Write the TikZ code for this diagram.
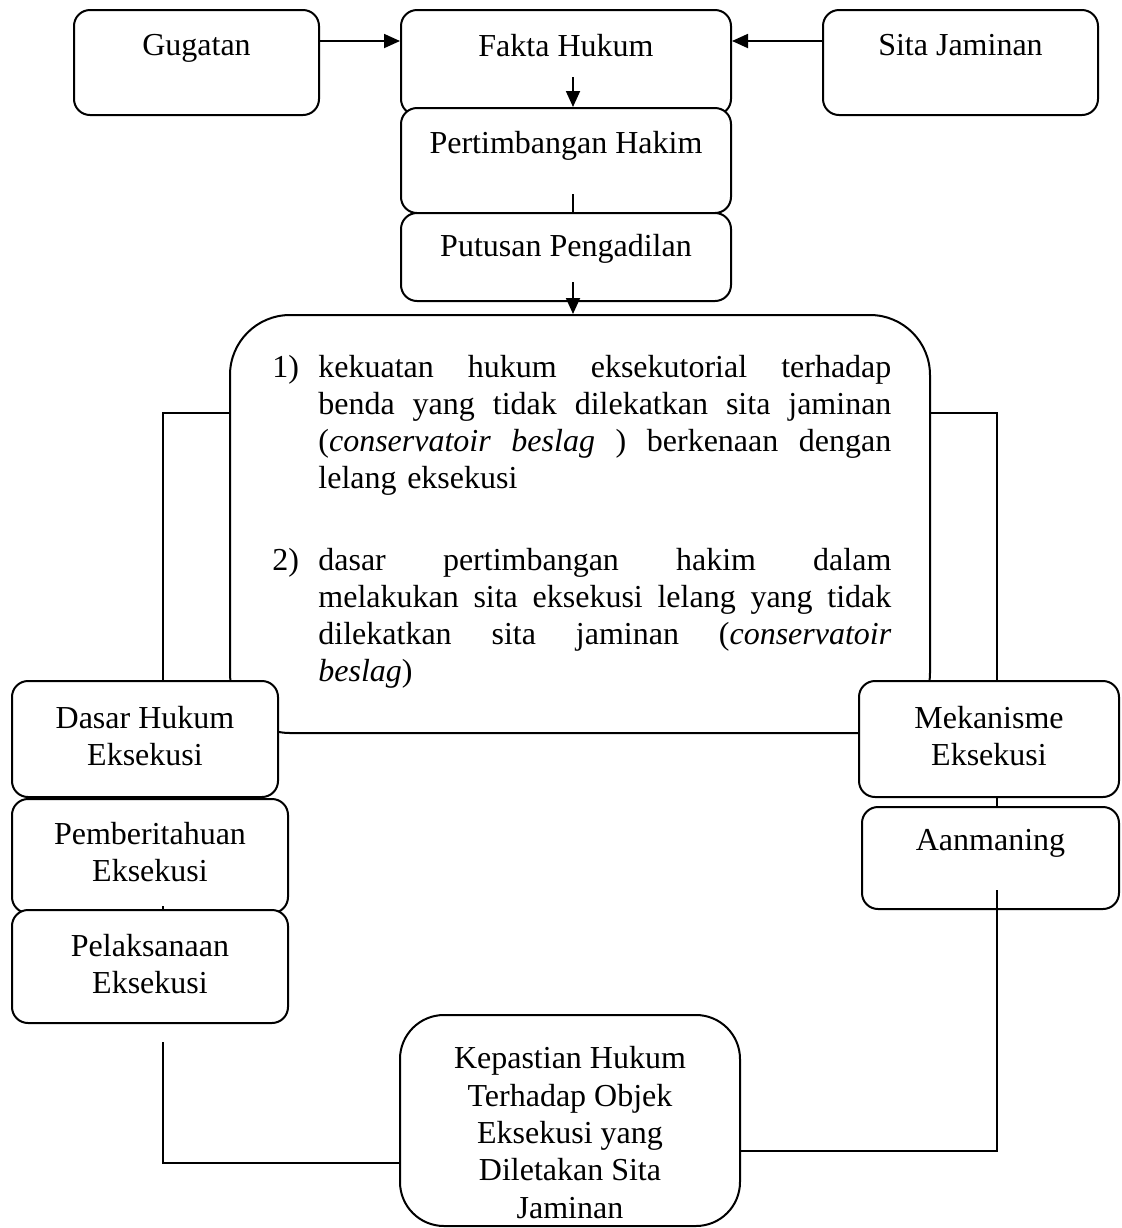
\documentclass[tikz,border=0pt]{standalone}
\usepackage{fontspec}
\setmainfont{Liberation Serif}
\usetikzlibrary{arrows.meta}
\newcommand\jline[1]{\makebox[286.5pt][l]{#1}}
\begin{document}
\begin{tikzpicture}[x=0.5pt,y=-0.5pt,
  box/.style={draw, line width=1pt, rounded corners=8pt, fill=white, inner sep=0pt, anchor=center},
  lbl/.style={inner sep=0pt, anchor=north, align=center, font=\fontsize{16}{18.5}\selectfont},
  conn/.style={line width=0.9pt},
  arr/.style={conn, -{Triangle[length=8pt,width=7pt]}}]
\useasboundingbox (0,0) rectangle (1122,1228);

% top row
\node[box, minimum width=122.5pt, minimum height=52.5pt] (gug) at (196.5,62.5) {};
\node[lbl] (gugT) at (196.5,34) {Gugatan};
\node[box, minimum width=165pt, minimum height=52.5pt] (fakta) at (566,62.5) {};
\node[lbl] (faktaT) at (566,34) {Fakta Hukum};
\node[box, minimum width=137.5pt, minimum height=52.5pt] (sita) at (960.5,62.5) {};
\node[lbl] (sitaT) at (960.5,34) {Sita Jaminan};

\node[box, minimum width=165pt, minimum height=52.5pt] (pert) at (566,160.5) {};
\node[lbl] (pertT) at (566,131) {Pertimbangan Hakim};
\node[box, minimum width=165pt, minimum height=44pt] (put) at (566,257) {};
\node[lbl] (putT) at (566,234) {Putusan Pengadilan};

% big box
\node[box, rounded corners=30pt, minimum width=350pt, minimum height=209pt] (big) at (580,524) {};
\node[inner sep=0pt, anchor=north west, align=left, text width=312pt,
      font=\fontsize{16}{18.5}\selectfont] (bigT) at (272,355) {%
\makebox[23pt][l]{1)}\jline{kekuatan\hfill hukum\hfill eksekutorial\hfill terhadap}\\
\hspace*{23pt}\jline{benda\hfill yang\hfill tidak\hfill dilekatkan\hfill sita\hfill jaminan}\\
\hspace*{23pt}\jline{(\textit{conservatoir}\hfill\textit{beslag}\hfill)\hfill berkenaan\hfill dengan}\\
\hspace*{23pt}lelang eksekusi\\[22.5pt]
\makebox[23pt][l]{2)}\jline{dasar\hfill pertimbangan\hfill hakim\hfill dalam}\\
\hspace*{23pt}\jline{melakukan\hfill sita\hfill eksekusi\hfill lelang\hfill yang\hfill tidak}\\
\hspace*{23pt}\jline{dilekatkan\hfill sita\hfill jaminan\hfill(\textit{conservatoir}}\\
\hspace*{23pt}\textit{beslag})};

% left column
\node[box, minimum width=133pt, minimum height=58pt] (dasar) at (145,739) {};
\node[lbl] (dasarT) at (145,706) {Dasar Hukum\\Eksekusi};
\node[box, minimum width=138pt, minimum height=57pt] (pemb) at (150,856) {};
\node[lbl] (pembT) at (150,822) {Pemberitahuan\\Eksekusi};
\node[box, minimum width=138pt, minimum height=56.5pt] (pel) at (150,966.5) {};
\node[lbl] (pelT) at (150,934) {Pelaksanaan\\Eksekusi};

% right column
\node[box, minimum width=130pt, minimum height=58pt] (mek) at (989,739) {};
\node[lbl] (mekT) at (989,706) {Mekanisme\\Eksekusi};
\node[box, minimum width=128.5pt, minimum height=51pt] (aan) at (990.5,858) {};
\node[lbl] (aanT) at (990.5,829) {Aanmaning};

% bottom
\node[box, rounded corners=22pt, minimum width=170pt, minimum height=105.5pt] (kep) at (570,1120.5) {};
\node[lbl, font=\fontsize{16}{18.7}\selectfont] (kepT) at (570,1046) {Kepastian Hukum\\Terhadap Objek\\Eksekusi yang\\Diletakan Sita\\Jaminan};

% connectors
\draw[arr] ([yshift=10.75pt]gug.east) -- ([yshift=10.75pt]fakta.west);
\draw[arr] ([yshift=10.75pt]sita.west) -- ([yshift=10.75pt]fakta.east);
\coordinate (c1) at (573,77);
\draw[arr] (c1) -- (c1 |- pert.north);
\coordinate (c2) at (573,194);
\draw[conn] (c2) -- (c2 |- put.north);
\coordinate (c3) at (573,282);
\draw[arr] (c3) -- (c3 |- big.north);

\coordinate (L) at (163,413);
\draw[conn] (big.west |- L) -- (L) -- (L |- dasar.north);
\coordinate (R) at (997,413);
\draw[conn] (big.east |- R) -- (R) -- (R |- mek.north);

\coordinate (s1) at (152,790);
\draw[conn] (s1 |- dasar.south) -- (s1 |- pemb.north);
\coordinate (s2) at (163,906);
\draw[conn] (s2) -- (s2 |- pel.north);
\draw[conn] (R |- mek.south) -- (R |- aan.north);

\coordinate (A) at (997,890);
\coordinate (A2) at (997,1151);
\draw[conn] (A) -- (A2) -- (A2 -| kep.east);
\coordinate (P) at (163,1042);
\coordinate (P2) at (163,1163);
\draw[conn] (P) -- (P2) -- (P2 -| kep.west);
\end{tikzpicture}
\end{document}
